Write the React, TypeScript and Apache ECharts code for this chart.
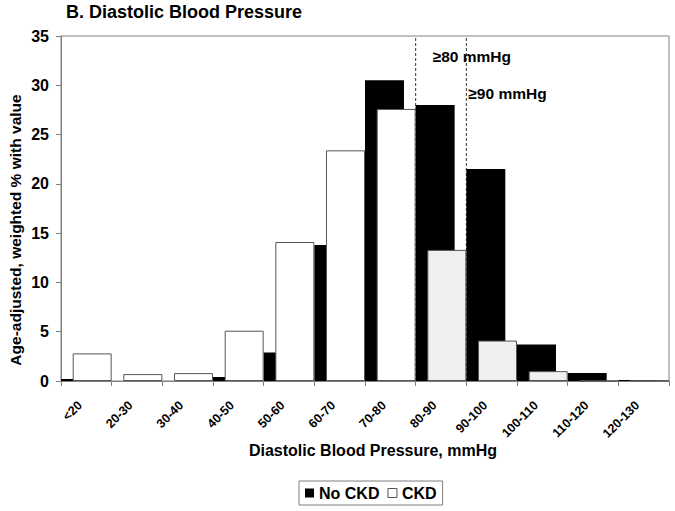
import React, { useEffect, useRef } from "react";
import * as echarts from "echarts";

const categories = ["<20", "20-30", "30-40", "40-50", "50-60", "60-70", "70-80", "80-90", "90-100", "100-110", "110-120", "120-130"];
const noCkdValues = [0.2, 0, 0, 0.4, 2.9, 13.8, 30.5, 28.0, 21.5, 3.7, 0.8, 0.1];
const ckdValues = [2.8, 0.7, 0.8, 5.1, 14.1, 23.4, 27.6, 13.3, 4.1, 1.0, 0, 0.05];
const seriesNames = ["No CKD", "CKD"];
const thresholdCategories = ["80-90", "90-100"];
const thresholdLabels = ["≥80 mmHg", "≥90 mmHg"];
const thresholdLabelValues = [32.9, 29.2];
const yMin = 0;
const yMax = 35;
const yInterval = 5;
const titleText = "B. Diastolic Blood Pressure";
const xAxisTitle = "Diastolic Blood Pressure, mmHg";
const yAxisTitle = "Age-adjusted, weighted % with value";

const FONT = "'Liberation Sans', Arial, Helvetica, sans-serif";

export default function App() {
  const ref = useRef<HTMLDivElement>(null);

  useEffect(() => {
    if (!ref.current) return;
    const chart = echarts.init(ref.current, null, { renderer: "svg" });
    const highIndex = categories.indexOf(thresholdCategories[0]);

    const dashedSeries = thresholdCategories.map((c, i) => {
      const b = categories.indexOf(c);
      return {
        type: "line",
        name: "thr" + i,
        xAxisIndex: 1,
        yAxisIndex: 0,
        data: [[b, yMin], [b, yMax]],
        symbol: "none",
        silent: true,
        z: 1,
        lineStyle: { color: "#333", width: 1, type: [3, 2] },
        label: { show: false },
      };
    });

    chart.setOption({
      animation: false,
      backgroundColor: "#fff",
      textStyle: { fontFamily: FONT },
      title: {
        text: titleText,
        left: 66,
        top: 3,
        padding: 0,
        textStyle: { fontFamily: FONT, fontSize: 18, fontWeight: "bold", color: "#000" },
      },
      legend: {
        left: 299,
        top: 481,
        padding: [4, 6],
        itemGap: 8,
        itemWidth: 9,
        itemHeight: 9,
        borderColor: "#7f7f7f",
        borderWidth: 1,
        icon: "rect",
        textStyle: { fontFamily: FONT, fontSize: 16, fontWeight: "bold", color: "#000" },
        data: [
          { name: seriesNames[0], itemStyle: { color: "#000", borderColor: "#000", borderWidth: 0 } },
          { name: seriesNames[1], itemStyle: { color: "#fff", borderColor: "#555", borderWidth: 1 } },
        ],
      },
      grid: { left: 61, right: 6, top: 36, bottom: 130, show: true, borderColor: "#808080", borderWidth: 1, containLabel: false },
      xAxis: [
        {
          type: "category",
          data: categories,
          boundaryGap: true,
          axisLine: { show: true, lineStyle: { color: "#808080", width: 1 } },
          axisTick: { show: true, inside: false, length: 5, lineStyle: { color: "#808080" } },
          axisLabel: {
            rotate: 45,
            margin: 16,
            fontFamily: FONT,
            fontSize: 12.5,
            fontWeight: "bold",
            color: "#000",
            interval: 0,
            padding: [0, 9, 0, 0],
          },
          splitLine: { show: false },
        },
        {
          type: "value",
          min: 0,
          max: categories.length,
          show: false,
          splitLine: { show: false },
        },
      ],
      yAxis: {
        type: "value",
        min: yMin,
        max: yMax,
        interval: yInterval,
        axisLine: { show: true, lineStyle: { color: "#808080", width: 1 } },
        axisTick: { show: true, inside: false, length: 5, lineStyle: { color: "#808080" } },
        axisLabel: { margin: 12, fontFamily: FONT, fontSize: 16, fontWeight: "bold", color: "#000" },
        splitLine: { show: false },
      },
      series: [
        ...dashedSeries,
        {
          type: "bar",
          name: seriesNames[0],
          xAxisIndex: 0,
          data: noCkdValues,
          barGap: "-70%",
          barCategoryGap: "0%",
          z: 2,
          itemStyle: { color: "#000", borderColor: "#000", borderWidth: 0 },
        },
        {
          type: "bar",
          name: seriesNames[1],
          xAxisIndex: 0,
          data: ckdValues.map((v, i) => ({
            value: v,
            itemStyle: { color: i >= highIndex ? "#f0f0f0" : "#fff" },
          })),
          barGap: "-70%",
          barCategoryGap: "0%",
          z: 3,
          itemStyle: { color: "#fff", borderColor: "#555", borderWidth: 1 },
        },
      ],
      graphic: [
        {
          type: "text",
          x: 15,
          y: 230,
          rotation: Math.PI / 2,
          style: {
            text: yAxisTitle,
            fontFamily: FONT,
            fontSize: 15.5,
            fontWeight: "bold",
            fill: "#000",
            align: "center",
            verticalAlign: "middle",
          },
        },
        {
          type: "text",
          x: 373,
          y: 450,
          style: {
            text: xAxisTitle,
            fontFamily: FONT,
            fontSize: 16,
            fontWeight: "bold",
            fill: "#000",
            align: "center",
            verticalAlign: "middle",
          },
        },
      ],
    });

    // threshold annotations placed via the chart's own scales
    const extra = thresholdLabels.map((t, i) => {
      const b = categories.indexOf(thresholdCategories[i]);
      const p = chart.convertToPixel({ xAxisIndex: 1, yAxisIndex: 0 }, [b, thresholdLabelValues[i]]) as number[];
      return {
        type: "text",
        x: p[0] + (i === 0 ? 17 : 2),
        y: p[1],
        z: 10,
        style: {
          text: t,
          fontFamily: FONT,
          fontSize: 15.5,
          fontWeight: "bold",
          fill: "#000",
          align: "left",
          verticalAlign: "middle",
        },
      };
    });
    const opt: any = chart.getOption();
    chart.setOption({ graphic: [...(opt.graphic?.[0]?.elements || []).map(() => ({})), ...extra] });

    return () => chart.dispose();
  }, []);

  return <div ref={ref} style={{ width: 675, height: 511, position: "absolute", left: 0, top: 0 }} />;
}
